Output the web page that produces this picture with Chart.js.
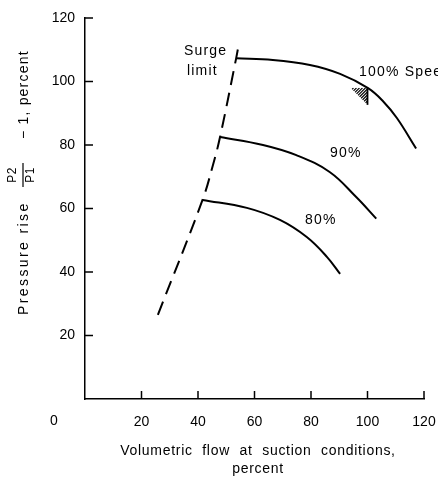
<!DOCTYPE html>
<html>
<head>
<meta charset="utf-8">
<script src="https://cdn.jsdelivr.net/npm/chart.js@4.4.1/dist/chart.umd.min.js"></script>
<style>
  html, body { margin: 0; padding: 0; background: #fff; }
  canvas { display: block; }
</style>
</head>
<body>
<canvas id="chart" width="438" height="486"></canvas>
<script>
// compressor map: pressure rise vs. volumetric flow at 80/90/100% speed
const flowTicks = [0, 20, 40, 60, 80, 100, 120];
const riseTicks = [0, 20, 40, 60, 80, 100, 120];

const surgeFlow = [25.8, 41.6, 45.3, 47.8, 53.5, 54.5];
const surgeRise = [26.5, 62.7, 73.7, 82.5, 107.3, 112.1];

const flow80 = [41.6, 57.3, 69.0, 78.5, 85.7, 90.3];
const rise80 = [62.7, 60.2, 56.4, 51.0, 44.7, 39.4];

const flow90 = [47.8, 63.0, 74.8, 86.6, 96.0, 103.1];
const rise90 = [82.5, 80.0, 76.8, 71.5, 63.6, 56.8];

const flow100 = [53.5, 66.5, 79.6, 90.3, 100.2, 105.5, 110.4, 117.2];
const rise100 = [107.3, 106.8, 105.2, 102.4, 97.9, 93.8, 88.5, 78.9];

// design point (hatched corner)
const designFlow = 100;
const designRise = 98;

const FONT = '"Liberation Sans", Arial, sans-serif';

function toPoints(xs, ys) {
	return xs.map(function(v, i) { return {x: v, y: ys[i]}; });
}

function curve(xs, ys, dash) {
	return {
		data: toPoints(xs, ys),
		borderColor: '#000',
		borderWidth: 2,
		borderDash: dash || [],
		borderCapStyle: 'butt',
		pointRadius: 0,
		fill: false,
		tension: 0.4
	};
}

const handLabels = {
	id: 'handLabels',
	afterDraw(chart) {
		const ctx = chart.ctx;
		const x = chart.scales.x;
		const y = chart.scales.y;
		ctx.save();

		// tick marks point into the plot
		ctx.strokeStyle = '#000';
		ctx.lineWidth = 1.5;
		flowTicks.forEach(function(v) {
			if (v === 0) return;
			const px = x.getPixelForValue(v);
			ctx.beginPath();
			ctx.moveTo(px, y.bottom);
			ctx.lineTo(px, y.bottom - 8);
			ctx.stroke();
		});
		riseTicks.forEach(function(v) {
			if (v === 0) return;
			const py = y.getPixelForValue(v);
			ctx.beginPath();
			ctx.moveTo(x.left, py);
			ctx.lineTo(x.left + 8, py);
			ctx.stroke();
		});

		ctx.fillStyle = '#000';
		ctx.textBaseline = 'middle';

		// origin label sits off to the left
		ctx.font = '14px ' + FONT;
		ctx.textAlign = 'center';
		ctx.fillText('0', x.left - 31, y.bottom + 22);

		// x axis title
		ctx.letterSpacing = '0.7px';
		ctx.wordSpacing = '5px';
		ctx.fillText('Volumetric flow at suction conditions,', 258, 451);
		ctx.wordSpacing = '0px';
		ctx.fillText('percent', 258, 469);

		// curve labels
		ctx.letterSpacing = '1.2px';
		ctx.textAlign = 'left';
		ctx.fillText('Surge', x.getPixelForValue(35.0), y.getPixelForValue(109.6));
		ctx.fillText('limit', x.getPixelForValue(36.1), y.getPixelForValue(103.3));
		ctx.fillText('100% Speed', x.getPixelForValue(97.0), y.getPixelForValue(103.0));
		ctx.fillText('90%', x.getPixelForValue(86.7), y.getPixelForValue(77.5));
		ctx.fillText('80%', x.getPixelForValue(77.9), y.getPixelForValue(56.4));

		// hatched triangle under the design point
		const hx = x.getPixelForValue(designFlow);
		const hy = y.getPixelForValue(designRise);
		const s = 17;
		ctx.save();
		ctx.beginPath();
		ctx.moveTo(hx - s, hy);
		ctx.lineTo(hx, hy);
		ctx.lineTo(hx, hy + s);
		ctx.closePath();
		ctx.clip();
		ctx.lineWidth = 1.2;
		for (let k = -s; k < 2 * s; k += 3) {
			ctx.beginPath();
			ctx.moveTo(hx - s + k, hy + s);
			ctx.lineTo(hx + k, hy);
			ctx.stroke();
		}
		ctx.restore();
		ctx.lineWidth = 1.8;
		ctx.beginPath();
		ctx.moveTo(hx, hy);
		ctx.lineTo(hx, hy + s);
		ctx.stroke();

		// y axis title, rotated, with the p2/p1 fraction
		ctx.save();
		ctx.translate(23, 315);
		ctx.rotate(-Math.PI / 2);
		ctx.textAlign = 'left';
		ctx.textBaseline = 'alphabetic';
		ctx.font = '14px ' + FONT;
		ctx.letterSpacing = '2.4px';
		ctx.fillText('Pressure rise', 0, 5);
		ctx.font = '12px ' + FONT;
		ctx.letterSpacing = '0.5px';
		ctx.textAlign = 'center';
		ctx.textBaseline = 'middle';
		ctx.fillText('P2', 140, -10);
		ctx.fillText('P1', 140, 8);
		ctx.lineWidth = 1.2;
		ctx.beginPath();
		ctx.moveTo(128, 0);
		ctx.lineTo(152, 0);
		ctx.stroke();
		ctx.font = '14px ' + FONT;
		ctx.letterSpacing = '1.2px';
		ctx.textAlign = 'left';
		ctx.textBaseline = 'alphabetic';
		ctx.fillText('\u2212 1, percent', 176, 5);
		ctx.restore();

		ctx.restore();
	}
};

new Chart(document.getElementById('chart'), {
	type: 'line',
	data: {
		datasets: [
			curve(surgeFlow, surgeRise, [14, 8]),
			curve(flow80, rise80),
			curve(flow90, rise90),
			curve(flow100, rise100)
		]
	},
	options: {
		responsive: false,
		animation: false,
		layout: { padding: { top: 18, right: 14, left: 0, bottom: 0 } },
		plugins: {
			legend: { display: false },
			tooltip: { enabled: false }
		},
		scales: {
			x: {
				type: 'linear',
				min: 0,
				max: 120,
				afterFit: function(scale) {
					scale.height = 87;
					scale.paddingLeft = 0;
					scale.paddingRight = 0;
				},
				afterBuildTicks: function(scale) {
					scale.ticks = flowTicks.map(function(v) { return {value: v}; });
				},
				ticks: {
					color: '#000',
					font: { family: FONT, size: 14 },
					padding: 15,
					maxRotation: 0,
					callback: function(v) { return v === 0 ? '' : v; }
				},
				grid: { display: false, drawTicks: false },
				border: { display: true, color: '#000', width: 1.5 }
			},
			y: {
				type: 'linear',
				min: 0,
				max: 120,
				afterFit: function(scale) {
					scale.width = 85;
					scale.paddingTop = 0;
					scale.paddingBottom = 0;
				},
				afterBuildTicks: function(scale) {
					scale.ticks = riseTicks.map(function(v) { return {value: v}; });
				},
				ticks: {
					color: '#000',
					font: { family: FONT, size: 14 },
					padding: 10,
					callback: function(v) { return v === 0 ? '' : v; }
				},
				grid: { display: false, drawTicks: false },
				border: { display: true, color: '#000', width: 1.5 }
			}
		}
	},
	plugins: [handLabels]
});
</script>
</body>
</html>
